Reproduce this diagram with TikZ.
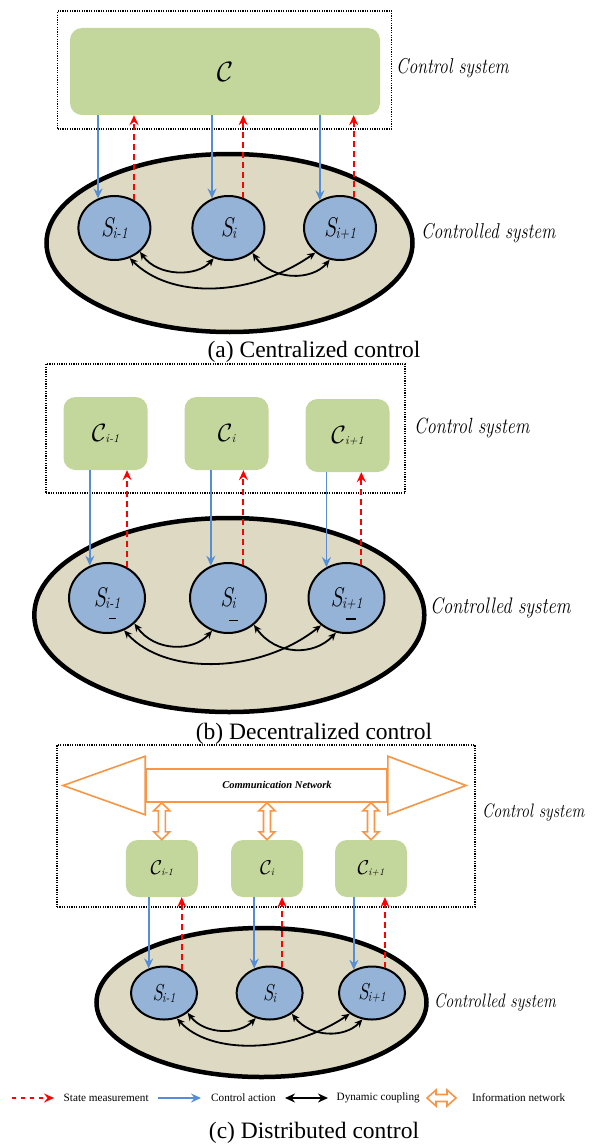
\documentclass[tikz,border=0pt]{standalone}
\usepackage{fontspec}
\usepackage{graphicx}
\usetikzlibrary{arrows.meta,shapes.geometric,calc}
\newfontfamily\tnr{Liberation Serif}
\definecolor{cgreen}{HTML}{C3D69B}
\definecolor{sblue}{HTML}{95B3D7}
\definecolor{ctan}{HTML}{DDD9C3}
\definecolor{ablue}{HTML}{558ED5}
\definecolor{aorange}{HTML}{F79646}
\newcommand\Cbig[1]{\scalebox{#1}{$\mathcal{C}$}}
\newcommand\subl[3]{\raisebox{-#1}{\fontsize{#2}{#2}\selectfont\itshape #3}}
\newcommand\Sbig[1]{{\fontsize{#1}{#1}\selectfont\itshape S}}
\newcommand\scr[2]{{\fontsize{#1}{#1}\selectfont\itshape\scalebox{0.82}[1]{#2}}}
\newcommand\vinfo[2]{\draw[orng] let \p1=(#1), \p2=(#2) in
  (\x1,\y1) -- (\x1+8pt,\y1-8pt) -- (\x1+3.5pt,\y1-8pt) -- (\x1+3.5pt,\y2+8pt) -- (\x1+8pt,\y2+8pt) -- (\x1,\y2)
  -- (\x1-8pt,\y2+8pt) -- (\x1-3.5pt,\y2+8pt) -- (\x1-3.5pt,\y1-8pt) -- (\x1-8pt,\y1-8pt) -- cycle;}
\newcommand\hinfo[2]{\draw[orng] let \p1=(#1), \p2=(#2) in
  (\x1,\y1) -- (\x1+9pt,\y1+8pt) -- (\x1+9pt,\y1+3.5pt) -- (\x2-9pt,\y1+3.5pt) -- (\x2-9pt,\y1+8pt) -- (\x2,\y1)
  -- (\x2-9pt,\y1-8pt) -- (\x2-9pt,\y1-3.5pt) -- (\x1+9pt,\y1-3.5pt) -- (\x1+9pt,\y1-8pt) -- cycle;}
\begin{document}
\begin{tikzpicture}[x=1pt,y=-1pt,
  dotbox/.style={draw, line width=1.2pt, dash pattern=on 1.2pt off 1.2pt, inner sep=0pt},
  cbox/.style={fill=cgreen, rounded corners=12pt, inner sep=0pt},
  sysell/.style={ellipse, draw, fill=ctan, line width=4.5pt, inner sep=0pt},
  snode/.style={ellipse, draw, fill=sblue, line width=2pt, inner sep=0pt},
  ctrl/.style={draw=ablue, line width=1.8pt, -{Stealth[length=10pt,width=9pt,inset=3.5pt]}},
  meas/.style={draw=red, line width=2pt, dash pattern=on 6pt off 4pt, -{Stealth[length=10pt,width=9pt,inset=3.5pt]}},
  coup/.style={draw=black, line width=1.8pt, {Stealth[length=8pt,width=7pt]}-{Stealth[length=8pt,width=7pt]}},
  orng/.style={draw=aorange, line width=1.6pt, fill=white},
  lab/.style={inner sep=0pt, anchor=west},
  captxt/.style={inner sep=0pt, font=\tnr\fontsize{23.5}{23.5}\selectfont},
  leg/.style={inner sep=0pt, anchor=west, font=\tnr\fontsize{11.2}{11.2}\selectfont}]
\useasboundingbox (0,0) rectangle (603,1145);

% ================= (a) =================
\node[dotbox, minimum width=334pt, minimum height=118pt] (boxA) at (224.5,70) {};
\node[cbox, minimum width=310pt, minimum height=87pt] (Ca) at (225,71.5) {\Cbig{2.8}};
\node[lab] (lCa) at (396,68) {\scr{21.5}{Control system}};
\node[sysell, minimum width=366pt, minimum height=178pt] (Ea) at (229.5,243) {};
\node[lab] (lEa) at (421,233) {\scr{21.5}{Controlled system}};
\node[snode, minimum width=72pt, minimum height=64pt] (Sa1) at (114.4,228) {\scalebox{0.82}[1]{\Sbig{27}\kern-1pt\subl{2pt}{16}{i-1}}};
\node[snode, minimum width=72pt, minimum height=64pt] (Sa2) at (228.4,228) {\scalebox{0.82}[1]{\Sbig{27}\kern-1pt\subl{2pt}{16}{i}}};
\node[snode, minimum width=72pt, minimum height=64pt] (Sa3) at (340,228) {\scalebox{0.82}[1]{\Sbig{27}\kern-1pt\subl{2pt}{16}{i+1}}};
\draw[ctrl] (Sa1.119 |- Ca.south) -- (Sa1.119);
\draw[meas] (Sa1.55) -- (Sa1.55 |- Ca.south);
\draw[ctrl] (Sa2.119 |- Ca.south) -- (Sa2.119);
\draw[meas] (Sa2.64) -- (Sa2.64 |- Ca.south);
\draw[ctrl] (Sa3.126 |- Ca.south) -- (Sa3.126);
\draw[meas] (Sa3.66) -- (Sa3.66 |- Ca.south);
\draw[coup] (Sa1.-43) .. controls (158,277) and (197,277) .. (Sa2.-116);
\draw[coup] (Sa2.-46) .. controls (272,281) and (312,281) .. (Sa3.-108);
\draw[coup] (Sa1.-63) .. controls (170,299) and (250,298) .. (Sa3.-135);
\node[captxt] (capA) at (314,352) {(a) Centralized control};

% ================= (b) =================
\node[dotbox, minimum width=359pt, minimum height=129pt] (boxB) at (225.5,428.5) {};
\node[cbox, minimum width=84pt, minimum height=73pt] (Cb1) at (105.5,433.5) {\Cbig{2.5}\kern-1pt\subl{1pt}{12}{i-1}};
\node[cbox, minimum width=84pt, minimum height=73pt] (Cb2) at (226.5,433.5) {\Cbig{2.5}\kern-1pt\subl{1pt}{12}{i}};
\node[cbox, minimum width=84pt, minimum height=73pt] (Cb3) at (347.5,435.5) {\Cbig{2.5}\kern-1pt\subl{1pt}{12}{i+1}};
\node[lab] (lCb) at (414,428) {\scr{22}{Control system}};
\node[sysell, minimum width=390pt, minimum height=194pt] (Eb) at (229.3,615) {};
\node[lab] (lEb) at (430,608) {\scr{22.5}{Controlled system}};
\node[snode, minimum width=76pt, minimum height=70pt] (Sb1) at (107,598) {\scalebox{0.82}[1]{\Sbig{27}\kern-1pt\subl{2pt}{16}{i-1}}};
\node[snode, minimum width=76pt, minimum height=70pt] (Sb2) at (228,598) {\scalebox{0.82}[1]{\Sbig{27}\kern-1pt\subl{2pt}{16}{i}}};
\node[snode, minimum width=76pt, minimum height=70pt] (Sb3) at (346.5,598) {\scalebox{0.82}[1]{\Sbig{27}\kern-1pt\subl{2pt}{16}{i+1}}};
\draw[line width=1pt] ([shift={(2,20)}]Sb1.center) -- ([shift={(9,20)}]Sb1.center);
\draw[line width=1pt] ([shift={(1,22)}]Sb2.center) -- ([shift={(9.5,22)}]Sb2.center);
\draw[line width=2pt] ([shift={(-1,21)}]Sb3.center) -- ([shift={(9.5,21)}]Sb3.center);
\draw[ctrl] (Sb1.118 |- Cb1.south) -- (Sb1.118);
\draw[meas] (Sb1.57) -- (Sb1.57 |- Cb1.south);
\draw[ctrl] (Sb2.118 |- Cb2.south) -- (Sb2.118);
\draw[meas] (Sb2.65) -- (Sb2.65 |- Cb2.south);
\draw[ctrl] (Sb3.123 |- Cb3.south) -- (Sb3.123);
\draw[meas] (Sb3.66) -- (Sb3.66 |- Cb3.south);
\draw[coup] (Sb1.-43) .. controls (155,652) and (193,652) .. (Sb2.-116);
\draw[coup] (Sb2.-46) .. controls (276,656) and (314,656) .. (Sb3.-107);
\draw[coup] (Sb1.-62) .. controls (165,676) and (260,674) .. (Sb3.-133);
\node[captxt] (capB) at (314,734) {(b) Decentralized control};

% ================= (c) =================
\node[dotbox, minimum width=418pt, minimum height=162pt] (boxC) at (266,826) {};
\node[draw=aorange, line width=1.6pt, fill=white, minimum width=241pt, minimum height=33pt, inner sep=0pt] (net) at (266.5,785.5) {};
\coordinate (netL) at (63,785.5);
\coordinate (netR) at (466,785.5);
\draw[orng] ([yshift=12pt]net.north west) -- (netL) -- ([yshift=-12pt]net.south west) -- cycle;
\draw[orng] ([yshift=12pt]net.north east) -- (netR) -- ([yshift=-12pt]net.south east) -- cycle;
\node[inner sep=0pt, font=\tnr\bfseries\itshape\fontsize{10.5}{10.5}\selectfont] (nettext) at (277,785) {Communication Network};
\node[cbox, minimum width=72pt, minimum height=57pt] (Cc1) at (161.8,868.5) {\Cbig{2.0}\kern-1pt\subl{1pt}{10}{i-1}};
\node[cbox, minimum width=72pt, minimum height=57pt] (Cc2) at (267,868.5) {\Cbig{2.0}\kern-1pt\subl{1pt}{10}{i}};
\node[cbox, minimum width=72pt, minimum height=57pt] (Cc3) at (371,868.5) {\Cbig{2.0}\kern-1pt\subl{1pt}{10}{i+1}};
\vinfo{net.south -| Cc1.north}{Cc1.north}
\vinfo{net.south -| Cc2.north}{Cc2.north}
\vinfo{net.south -| Cc3.north}{Cc3.north}
\node[lab] (lCc) at (482,813) {\scr{19.5}{Control system}};
\node[sysell, minimum width=330pt, minimum height=149pt] (Ec) at (261.5,1002.5) {};
\node[lab] (lEc) at (434,1003) {\scr{19.5}{Controlled system}};
\node[snode, minimum width=66pt, minimum height=53pt] (Sc1) at (164,993) {\scalebox{0.82}[1]{\Sbig{23}\kern-1pt\subl{2pt}{14}{i-1}}};
\node[snode, minimum width=66pt, minimum height=53pt] (Sc2) at (269.6,993) {\scalebox{0.82}[1]{\Sbig{23}\kern-1pt\subl{2pt}{14}{i}}};
\node[snode, minimum width=66pt, minimum height=53pt] (Sc3) at (372,993) {\scalebox{0.82}[1]{\Sbig{23}\kern-1pt\subl{2pt}{14}{i+1}}};
\draw[ctrl] (Sc1.122 |- Cc1.south) -- (Sc1.122);
\draw[meas] (Sc1.53) -- (Sc1.53 |- Cc1.south);
\draw[ctrl] (Sc2.122 |- Cc2.south) -- (Sc2.122);
\draw[meas] (Sc2.64) -- (Sc2.64 |- Cc2.south);
\draw[ctrl] (Sc3.128 |- Cc3.south) -- (Sc3.128);
\draw[meas] (Sc3.63) -- (Sc3.63 |- Cc3.south);
\draw[coup] (Sc1.-40) .. controls (205,1035) and (239,1035) .. (Sc2.-119);
\draw[coup] (Sc2.-43) .. controls (311,1038) and (345,1038) .. (Sc3.-110);
\draw[coup] (Sc1.-63) .. controls (210,1055) and (290,1054) .. (Sc3.-137);

% legend
\coordinate (lg1a) at (11.5,1098); \coordinate (lg1b) at (54,1098);
\coordinate (lg2a) at (158,1098); \coordinate (lg2b) at (201,1098);
\coordinate (lg3a) at (285,1098); \coordinate (lg3b) at (328,1098);
\coordinate (lg4a) at (427,1098); \coordinate (lg4b) at (456,1098);
\draw[meas, dash pattern=on 4pt off 5pt] (lg1a) -- (lg1b);
\node[leg] (t1) at (63.5,1098) {State measurement};
\draw[ctrl] (lg2a) -- (lg2b);
\node[leg] (t2) at (211,1098) {Control action};
\draw[line width=2pt, {Stealth[length=10pt,width=9pt]}-{Stealth[length=10pt,width=9pt]}] (lg3a) -- (lg3b);
\node[leg] (t3) at (336.5,1098) {Dynamic coupling};
\hinfo{lg4a}{lg4b}
\node[leg] (t4) at (472,1098) {Information network};
\node[captxt] (capC) at (314,1133) {(c) Distributed control};
\end{tikzpicture}
\end{document}
